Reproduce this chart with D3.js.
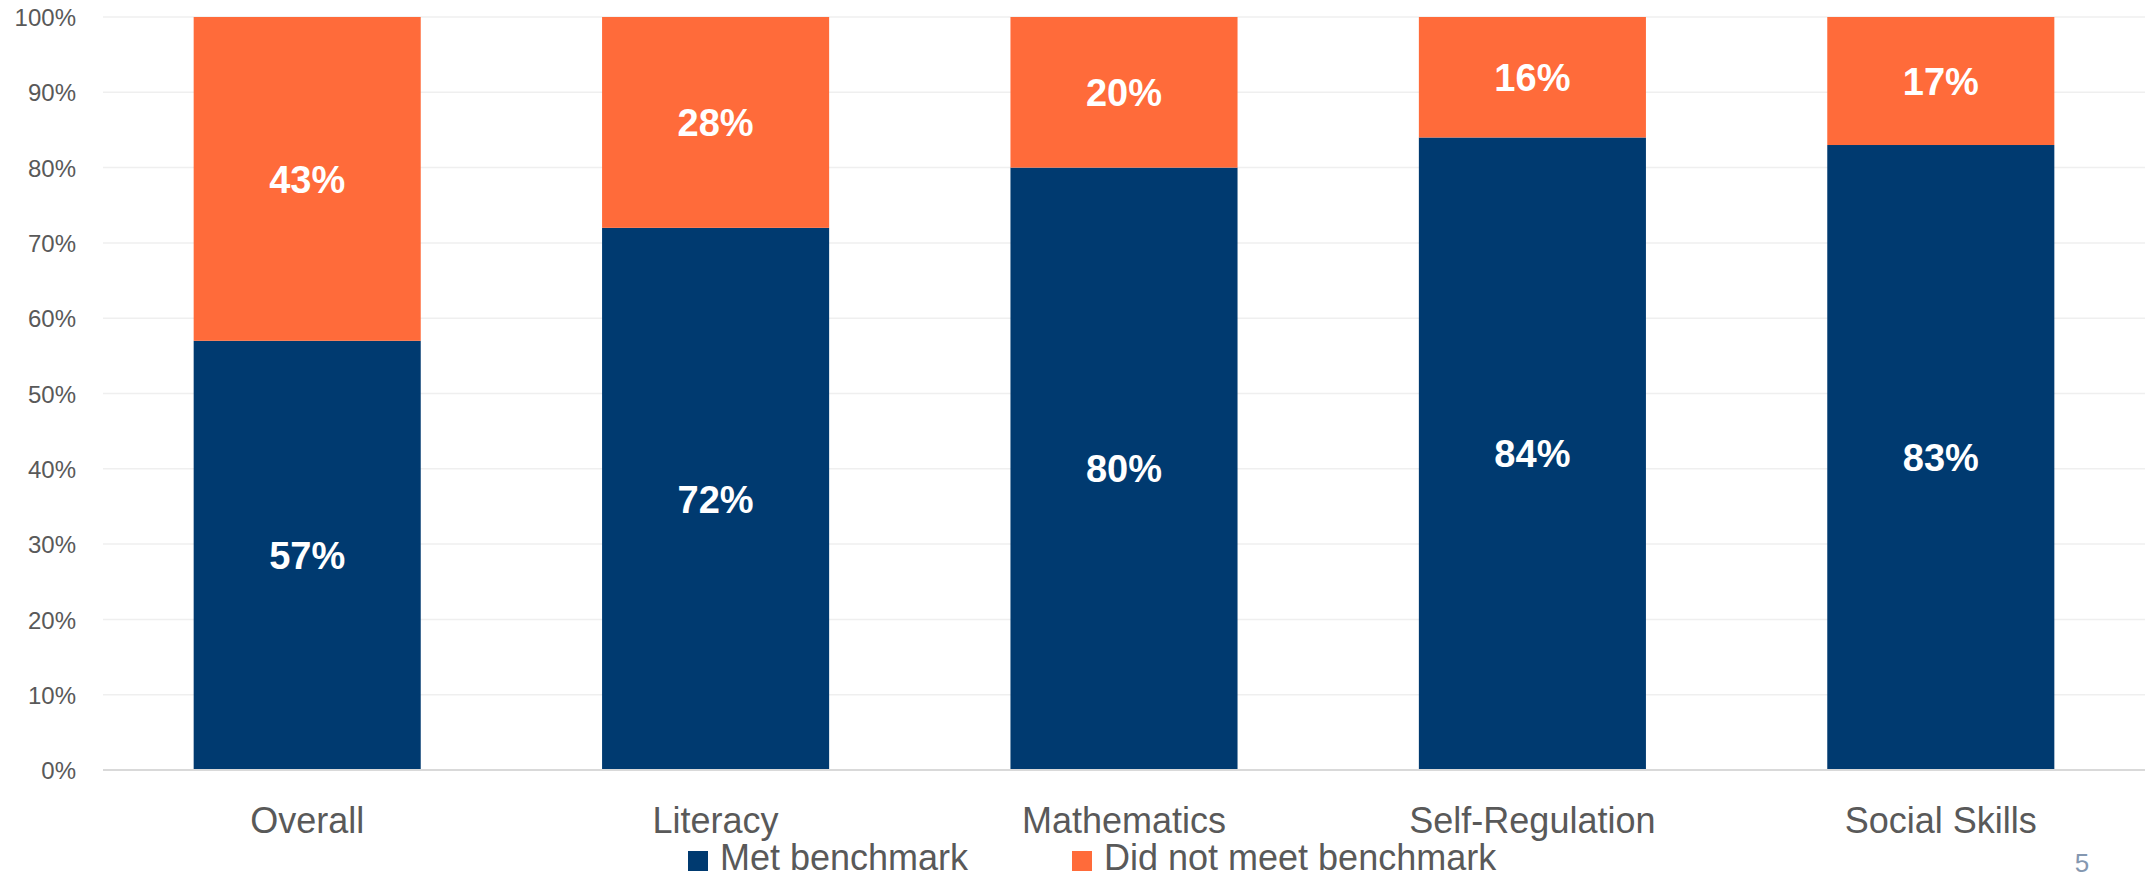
<!DOCTYPE html>
<html>
<head>
<meta charset="utf-8">
<script src="https://cdn.jsdelivr.net/npm/d3@7"></script>
<style>
  html, body { margin: 0; padding: 0; background: #ffffff; }
  svg { display: block; }
  text { font-family: "Liberation Sans", Arial, sans-serif; }
</style>
</head>
<body>
<svg id="chart" width="2156" height="878"></svg>
<script>
// ---- data ----
const categories = ["Overall", "Literacy", "Mathematics", "Self-Regulation", "Social Skills"];
const metBenchmark = [57, 72, 80, 84, 83];
const didNotMeet = [43, 28, 20, 16, 17];
const seriesNames = ["Met benchmark", "Did not meet benchmark"];
const seriesColors = ["#003A70", "#FF6B3A"];
const yTicks = [0, 10, 20, 30, 40, 50, 60, 70, 80, 90, 100];
const pageNumber = "5";

// ---- layout ----
const plotLeft = 103, plotRight = 2145, plotTop = 17, plotBottom = 770;

const svg = d3.select("#chart");

const x = d3.scaleBand().domain(categories).range([plotLeft, plotRight])
  .paddingInner(0.444).paddingOuter(0.222);
const y = d3.scaleLinear().domain([0, 100]).range([plotBottom, plotTop]);

// gridlines
svg.append("g").selectAll("line").data(yTicks.filter(t => t > 0)).join("line")
  .attr("x1", plotLeft).attr("x2", plotRight)
  .attr("y1", d => y(d)).attr("y2", d => y(d))
  .attr("stroke", "#EFEFEF").attr("stroke-width", 1.5);

// y tick labels
const yAxis = d3.axisLeft(y).tickValues(yTicks).tickFormat(d => d + "%").tickSize(0).tickPadding(0);
const yg = svg.append("g").attr("transform", `translate(${plotLeft - 27},0)`).call(yAxis);
yg.select(".domain").remove();
yg.selectAll("text")
  .attr("font-family", "Liberation Sans, Arial, sans-serif")
  .attr("font-size", 24).attr("fill", "#595959").attr("dy", "0.36em");

// stacked data
const rows = categories.map((c, i) => ({ cat: c, met: metBenchmark[i], not: didNotMeet[i] }));
const stacked = d3.stack().keys(["met", "not"])(rows);

const groups = svg.append("g").selectAll("g").data(stacked).join("g")
  .attr("fill", (d, i) => seriesColors[i]);
groups.selectAll("rect").data(d => d).join("rect")
  .attr("x", d => x(d.data.cat))
  .attr("width", x.bandwidth())
  .attr("y", d => y(d[1]))
  .attr("height", d => y(d[0]) - y(d[1]));

// data labels
const lbl = svg.append("g");
stacked.forEach(s => {
  lbl.append("g").selectAll("text").data(s).join("text")
    .attr("x", d => x(d.data.cat) + x.bandwidth() / 2)
    .attr("y", d => (y(d[0]) + y(d[1])) / 2)
    .attr("dy", "0.36em")
    .attr("text-anchor", "middle")
    .attr("font-size", 38).attr("font-weight", "bold").attr("fill", "#ffffff")
    .text(d => (d[1] - d[0]) + "%");
});

// baseline
svg.append("line").attr("x1", plotLeft).attr("x2", plotRight)
  .attr("y1", y(0)).attr("y2", y(0))
  .attr("stroke", "#D9D9D9").attr("stroke-width", 2);

// x axis labels
const xAxis = d3.axisBottom(x).tickSize(0).tickPadding(0);
const xg = svg.append("g").attr("transform", `translate(0,${plotBottom})`).call(xAxis);
xg.select(".domain").remove();
xg.selectAll("text")
  .attr("font-family", "Liberation Sans, Arial, sans-serif")
  .attr("font-size", 36).attr("fill", "#595959")
  .attr("y", 63).attr("dy", 0);

// legend
const legendX = [688, 1072];
const leg = svg.append("g").selectAll("g").data(seriesNames).join("g")
  .attr("transform", (d, i) => `translate(${legendX[i]},851)`);
leg.append("rect").attr("width", 20).attr("height", 20).attr("fill", (d, i) => seriesColors[i]);
leg.append("text").attr("x", 32).attr("y", 19)
  .attr("font-size", 36).attr("fill", "#595959").text(d => d);

// page number
svg.append("text").attr("x", 2082).attr("y", 872).attr("text-anchor", "middle")
  .attr("font-size", 26).attr("fill", "#8497B0").text(pageNumber);
</script>
</body>
</html>
